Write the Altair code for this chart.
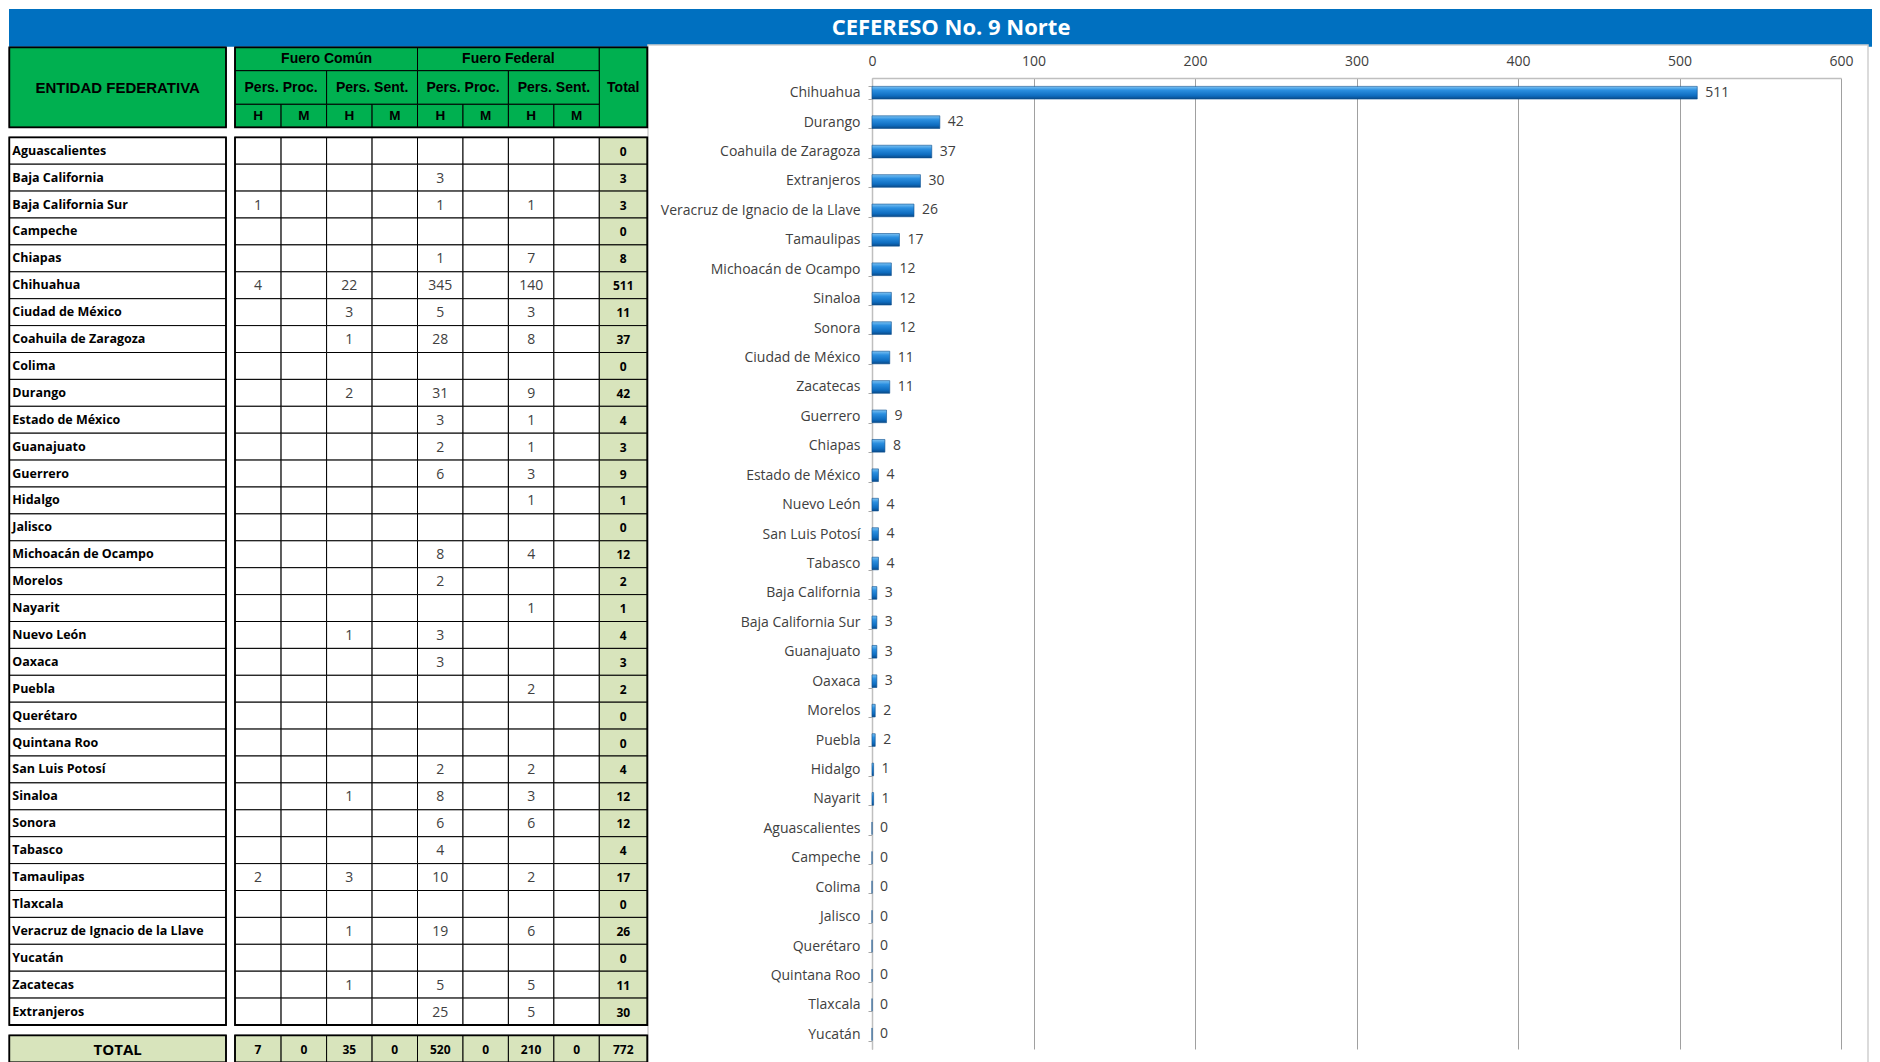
import altair as alt
import pandas as pd

title = "CEFERESO No. 9 Norte"

states = ["Aguascalientes", "Baja California", "Baja California Sur", "Campeche", "Chiapas",
          "Chihuahua", "Ciudad de México", "Coahuila de Zaragoza", "Colima", "Durango",
          "Estado de México", "Guanajuato", "Guerrero", "Hidalgo", "Jalisco",
          "Michoacán de Ocampo", "Morelos", "Nayarit", "Nuevo León", "Oaxaca", "Puebla",
          "Querétaro", "Quintana Roo", "San Luis Potosí", "Sinaloa", "Sonora", "Tabasco",
          "Tamaulipas", "Tlaxcala", "Veracruz de Ignacio de la Llave", "Yucatán", "Zacatecas",
          "Extranjeros"]

N = None
#            Ag BC BCS Ca Chp Chih CDMX Coa Col Dgo Mex Gto Gro Hgo Jal Mich Mor Nay NL Oax Pue Qro QRoo SLP Sin Son Tab Tamps Tlax Ver Yuc Zac Ext
fc_pp_h = [N, N, 1, N, N, 4, N, N, N, N, N, N, N, N, N, N, N, N, N, N, N, N, N, N, N, N, N, 2, N, N, N, N, N]
fc_pp_m = [N] * 33
fc_ps_h = [N, N, N, N, N, 22, 3, 1, N, 2, N, N, N, N, N, N, N, N, 1, N, N, N, N, N, 1, N, N, 3, N, 1, N, 1, N]
fc_ps_m = [N] * 33
ff_pp_h = [N, 3, 1, N, 1, 345, 5, 28, N, 31, 3, 2, 6, N, N, 8, 2, N, 3, 3, N, N, N, 2, 8, 6, 4, 10, N, 19, N, 5, 25]
ff_pp_m = [N] * 33
ff_ps_h = [N, N, 1, N, 7, 140, 3, 8, N, 9, 1, 1, 3, 1, N, 4, N, 1, N, N, 2, N, N, 2, 3, 6, N, 2, N, 6, N, 5, 5]
ff_ps_m = [N] * 33
totals = [0, 3, 3, 0, 8, 511, 11, 37, 0, 42, 4, 3, 9, 1, 0, 12, 2, 1, 4, 3, 2, 0, 0, 4, 12, 12, 4, 17, 0, 26, 0, 11, 30]
grand_totals = [7, 0, 35, 0, 520, 0, 210, 0, 772]

group_labels = ["Fuero Común", "Fuero Federal"]
sub_labels = ["Pers. Proc.", "Pers. Sent.", "Pers. Proc.", "Pers. Sent."]
sex_labels = ["H", "M", "H", "M", "H", "M", "H", "M"]

bar_order = ["Chihuahua", "Durango", "Coahuila de Zaragoza", "Extranjeros",
             "Veracruz de Ignacio de la Llave", "Tamaulipas", "Michoacán de Ocampo", "Sinaloa",
             "Sonora", "Ciudad de México", "Zacatecas", "Guerrero", "Chiapas", "Estado de México",
             "Nuevo León", "San Luis Potosí", "Tabasco", "Baja California", "Baja California Sur",
             "Guanajuato", "Oaxaca", "Morelos", "Puebla", "Hidalgo", "Nayarit", "Aguascalientes",
             "Campeche", "Colima", "Jalisco", "Querétaro", "Quintana Roo", "Tlaxcala", "Yucatán"]

GREEN = "#00b050"
LIGHT = "#d8e4bc"
BLUE = "#0070c0"

# ---------------- table construction ----------------
cols = [fc_pp_h, fc_pp_m, fc_ps_h, fc_ps_m, ff_pp_h, ff_pp_m, ff_ps_h, ff_ps_m]

rects = []
def add_rect(x0, x1, y0, y1, fill):
    rects.append(dict(x0=x0, x1=x1, y0=y0, y1=y1, fill=fill))

head_txt, ent_txt, name_txt, val_txt, bold_txt, total_lbl, sex_txt = [], [], [], [], [], [], []

# header
add_rect(-2, -1, -4, -1, GREEN)
ent_txt.append(dict(x=-1.5, y=-2.5, t="ENTIDAD FEDERATIVA"))
for g, lab in enumerate(group_labels):
    add_rect(4 * g, 4 * g + 4, -4, -3, GREEN)
    head_txt.append(dict(x=4 * g + 2, y=-3.5, t=lab))
add_rect(8, 9, -4, -1, GREEN)
head_txt.append(dict(x=8.5, y=-2.5, t="Total"))
for s, lab in enumerate(sub_labels):
    add_rect(2 * s, 2 * s + 2, -3, -2, GREEN)
    head_txt.append(dict(x=2 * s + 1, y=-2.5, t=lab))
for c, lab in enumerate(sex_labels):
    add_rect(c, c + 1, -2, -1, GREEN)
    sex_txt.append(dict(x=c + 0.5, y=-1.5, t=lab))

# body
for r, st in enumerate(states):
    add_rect(-2, -1, r, r + 1, "#ffffff")
    name_txt.append(dict(x=-2, y=r + 0.5, t=st))
    for c, col in enumerate(cols):
        add_rect(c, c + 1, r, r + 1, "#ffffff")
        if col[r] is not None:
            val_txt.append(dict(x=c + 0.5, y=r + 0.5, t=str(col[r])))
    add_rect(8, 9, r, r + 1, LIGHT)
    bold_txt.append(dict(x=8.5, y=r + 0.5, t=str(totals[r])))

# total row
add_rect(-2, -1, 34, 35, LIGHT)
total_lbl.append(dict(x=-1.5, y=34.5, t="TOTAL"))
for c, v in enumerate(grand_totals):
    add_rect(c, c + 1, 34, 35, LIGHT)
    bold_txt.append(dict(x=c + 0.5, y=34.5, t=str(v)))

outlines = [dict(x0=-2, x1=-1, y0=0, y1=33), dict(x0=0, x1=9, y0=0, y1=33),
            dict(x0=-2, x1=-1, y0=-4, y1=-1), dict(x0=0, x1=9, y0=-4, y1=-1),
            dict(x0=-2, x1=-1, y0=34, y1=35), dict(x0=0, x1=9, y0=34, y1=35)]

TX = alt.Scale(domain=[-2, -1, 0, 1, 2, 3, 4, 5, 6, 7, 8, 9],
               range=[-862.7, -646, -637, -590.9, -545.4, -499.9, -454.5, -409, -363.6,
                      -318.1, -272.7, -224.7], nice=False, zero=False)
TY = alt.Scale(domain=[-4, -3, -2, -1, 0, 33, 34, 35],
               range=[-30.7, -7.3, 26.3, 49.3, 59.3, 947, 957.3, 984.3], nice=False, zero=False)

cell_layer = alt.Chart(pd.DataFrame(rects)).mark_rect(stroke="#000000", strokeWidth=1).encode(
    x=alt.X("x0:Q", scale=TX, axis=None), x2="x1:Q",
    y=alt.Y("y0:Q", scale=TY, axis=None), y2="y1:Q",
    color=alt.Color("fill:N", scale=None))

outline_layer = alt.Chart(pd.DataFrame(outlines)).mark_rect(
    fill=None, fillOpacity=0, stroke="#000000", strokeWidth=1.8).encode(
    x=alt.X("x0:Q", scale=TX, axis=None), x2="x1:Q",
    y=alt.Y("y0:Q", scale=TY, axis=None), y2="y1:Q")

def text_layer(rows, **kw):
    return alt.Chart(pd.DataFrame(rows)).mark_text(baseline="middle", **kw).encode(
        x=alt.X("x:Q", scale=TX, axis=None),
        y=alt.Y("y:Q", scale=TY, axis=None),
        text="t:N")

table = alt.layer(
    cell_layer,
    outline_layer,
    text_layer(ent_txt, font="Liberation Sans", fontWeight="bold", fontSize=15, color="#000000"),
    text_layer(head_txt, font="Liberation Sans", fontWeight="bold", fontSize=14, color="#000000"),
    text_layer(sex_txt, font="Liberation Sans", fontWeight="bold", fontSize=13.5, color="#000000"),
    text_layer(name_txt, align="left", dx=3, font="Open Sans", fontWeight="bold", fontSize=12.5, color="#000000"),
    text_layer(val_txt, dy=1, font="Open Sans", fontWeight="normal", fontSize=14, color="#404040"),
    text_layer(bold_txt, dy=1, font="Open Sans", fontWeight="bold", fontSize=12, color="#000000"),
    text_layer(total_lbl, dy=1, font="Open Sans", fontWeight="bold", fontSize=15, color="#000000"),
)

# ---------------- bar chart ----------------
bar_df = pd.DataFrame({"state": states, "total": totals})

grad = alt.Gradient(gradient="linear",
                    stops=[alt.GradientStop(color="#7cc2f2", offset=0),
                           alt.GradientStop(color="#2b8fe0", offset=0.3),
                           alt.GradientStop(color="#0e6cbf", offset=0.75),
                           alt.GradientStop(color="#0a4a88", offset=1)],
                    x1=0, x2=0, y1=0, y2=1)

xenc = alt.X("total:Q", scale=alt.Scale(domain=[0, 600], nice=False),
             axis=alt.Axis(orient="top", values=[0, 100, 200, 300, 400, 500, 600], format="d",
                           title=None, grid=True, gridColor="#a0a0a0", gridWidth=1,
                           domainColor="#bfbfbf", domainWidth=1.5, ticks=False, labelPadding=10,
                           labelFlush=False, labelOverlap=False,
                           labelFont="Open Sans", labelFontSize=14, labelColor="#404040"))
yenc = alt.Y("state:N", sort=bar_order,
             scale=alt.Scale(domain=bar_order, paddingInner=0.57, paddingOuter=0.285),
             axis=alt.Axis(title=None, labelFont="Open Sans", labelFontSize=14,
                           labelColor="#404040", labelPadding=8, labelLimit=400,
                           tickBand="extent", tickSize=4, tickColor="#a6a6a6",
                           domainColor="#bfbfbf", domainWidth=1.5))

bars = alt.Chart(bar_df).mark_bar(color=grad, stroke="#0b4f8f", strokeWidth=0.6).encode(
    x=xenc, y=yenc)
labels = alt.Chart(bar_df).mark_text(align="left", baseline="middle", dx=8, font="Open Sans",
                                     fontSize=14, color="#404040").encode(
    x=alt.X("total:Q"), y=alt.Y("state:N", sort=bar_order), text="total:Q")
barchart = alt.layer(bars, labels)

# ---------------- decorations ----------------
deco = pd.DataFrame({"t": [title]})
band = alt.Chart(deco).mark_rect(color=BLUE).encode(
    x=alt.value(-863), x2=alt.value(1010), y=alt.value(-69), y2=alt.value(-31.3))
frame = alt.Chart(deco).mark_rect(fill=None, fillOpacity=0, stroke="#d0d0d0", strokeWidth=1.5).encode(
    x=alt.value(-224), x2=alt.value(996), y=alt.value(-33), y2=alt.value(1010))
frame_top = alt.Chart(deco).mark_rect(color="#ffffff").encode(
    x=alt.value(-224), x2=alt.value(996), y=alt.value(-33), y2=alt.value(-31))
title_txt = alt.Chart(deco).mark_text(font="Open Sans", fontWeight="bold", fontSize=22,
                                      color="#ffffff", baseline="middle").encode(
    x=alt.value(79), y=alt.value(-50), text="t:N")

chart = alt.layer(band, frame_top, frame, title_txt, table, barchart).resolve_scale(
    x="independent", y="independent"
).properties(
    width=969, height=971,
    autosize=alt.AutoSizeParams(type="none"),
    padding={"left": 864, "top": 70, "right": 31, "bottom": 13},
    background="#ffffff",
).configure_view(stroke=None)

chart.save("out.html", embed_options={"renderer": "svg", "actions": False})
